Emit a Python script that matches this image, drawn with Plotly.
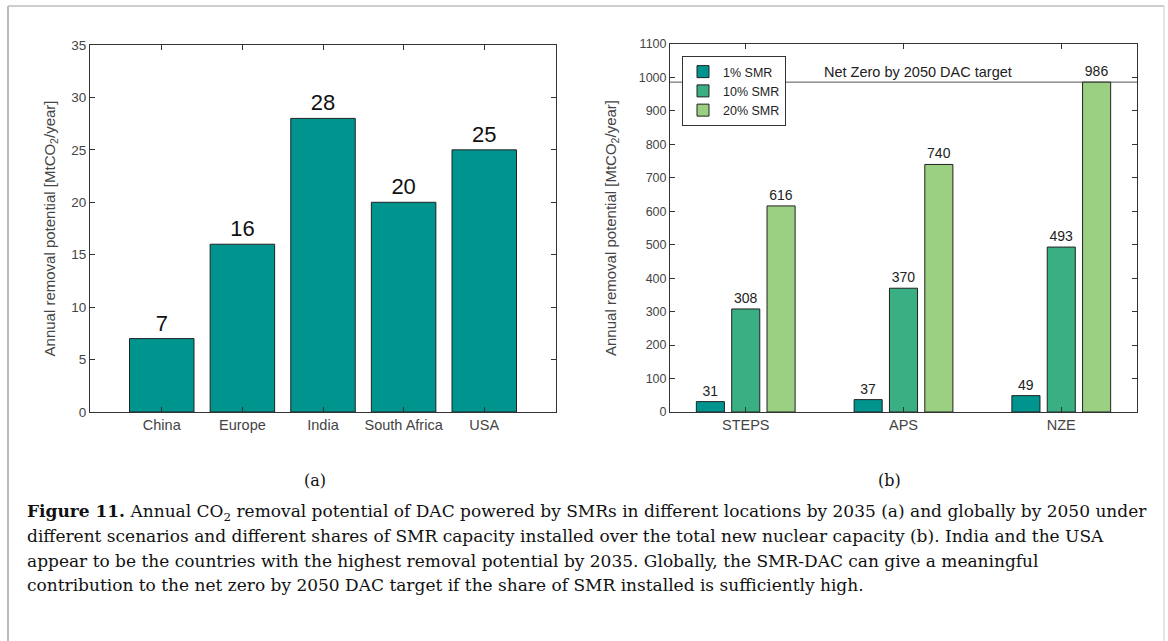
import plotly.graph_objects as go

# ---- data ----
countries = ["China", "Europe", "India", "South Africa", "USA"]
removal_2035 = [7, 16, 28, 20, 25]

scenarios = ["STEPS", "APS", "NZE"]
smr_1 = [31, 37, 49]
smr_10 = [308, 370, 493]
smr_20 = [616, 740, 986]
series_names = ["1% SMR", "10% SMR", "20% SMR"]
NZ_TARGET = 986

left_yticks = [0, 5, 10, 15, 20, 25, 30, 35]
right_yticks = [0, 100, 200, 300, 400, 500, 600, 700, 800, 900, 1000, 1100]

caption_lines = [
    "<b>Figure 11.</b> Annual CO<sub>2</sub> removal potential of DAC powered by SMRs in different locations by 2035 (a) and globally by 2050 under",
    "different scenarios and different shares of SMR capacity installed over the total new nuclear capacity (b). India and the USA",
    "appear to be the countries with the highest removal potential by 2035. Globally, the SMR-DAC can give a meaningful",
    "contribution to the net zero by 2050 DAC target if the share of SMR installed is sufficiently high.",
]

# ---- style ----
W, H = 1168, 641
TEAL = "#00948f"
GREEN = "#3aaf83"
LIGHT = "#9bcf82"
AX = "#333333"
SANS = "Liberation Sans, Arial"
SERIF = "DejaVu Serif, Liberation Serif, serif"

def px_x(p):
    return p / W

def px_y(p):
    return 1 - p / H

fig = go.Figure()

fig.add_trace(go.Bar(
    x=countries, y=removal_2035, width=0.8, marker=dict(color=TEAL, line=dict(color="#222222", width=1)),
    text=[str(v) for v in removal_2035], textposition="outside",
    textfont=dict(family=SANS, size=22, color="#111111"), cliponaxis=False,
    xaxis="x", yaxis="y", showlegend=False,
))

w = 0.178
centers = [-0.224, 0.0, 0.224]
for name, vals, col, c in zip(series_names, [smr_1, smr_10, smr_20], [TEAL, GREEN, LIGHT], centers):
    fig.add_trace(go.Bar(
        x=scenarios, y=vals, name=name, width=w, offset=c - w / 2,
        marker=dict(color=col, line=dict(color="#222222", width=1)),
        text=[str(v) for v in vals], textposition="outside",
        textfont=dict(family=SANS, size=14, color="#222222"), cliponaxis=False,
        xaxis="x2", yaxis="y2",
    ))

def axis_common(tsize):
    return dict(showline=True, linecolor=AX, linewidth=1, mirror="ticks",
                ticks="inside", ticklen=5, tickcolor=AX,
                tickfont=dict(family=SANS, size=tsize, color="#444444"),
                showgrid=False, zeroline=False, automargin=False)

title_font = dict(family=SANS, size=15, color="#444444")

fig.update_layout(
    template="none",
    width=W, height=H, margin=dict(l=0, r=0, t=0, b=0, pad=0),
    paper_bgcolor="white", plot_bgcolor="white",
    barmode="overlay",
    xaxis=dict(domain=[px_x(90), px_x(556)], range=[-0.89, 4.89], anchor="y", **axis_common(14.5)),
    yaxis=dict(domain=[px_y(412), px_y(45)], range=[0, 35], tickvals=left_yticks, anchor="x",
               title=dict(text="Annual removal potential [MtCO<sub>2</sub>/year]", font=title_font, standoff=12),
               **axis_common(13.5)),
    xaxis2=dict(domain=[px_x(670), px_x(1137)], range=[-0.48, 2.48], anchor="y2", **axis_common(14.5)),
    yaxis2=dict(domain=[px_y(412), px_y(44)], range=[0, 1100], tickvals=right_yticks, anchor="x2",
                title=dict(text="Annual removal potential [MtCO<sub>2</sub>/year]", font=title_font, standoff=18),
                **axis_common(12.5)),
    legend=dict(x=px_x(682), y=px_y(56), xanchor="left", yanchor="top",
                bgcolor="white", bordercolor="#333333", borderwidth=1,
                font=dict(family=SANS, size=12.5, color="#222222"),
                itemwidth=30, tracegroupgap=0),
    showlegend=True,
)

# Net Zero target line
fig.add_shape(type="line", xref="x2 domain", yref="y2", x0=0, x1=1, y0=NZ_TARGET, y1=NZ_TARGET,
              line=dict(color="#555555", width=1), layer="below")
fig.add_annotation(xref="x2", yref="y2", x=1.09, y=NZ_TARGET, yanchor="bottom", yshift=0,
                   text="Net Zero by 2050 DAC target", showarrow=False,
                   font=dict(family=SANS, size=14.5, color="#222222"))

# panel labels
for lab, xp in [("(a)", 302), ("(b)", 903)]:
    fig.add_annotation(xref="paper", yref="paper", x=px_x(xp), y=px_y(492), text=lab, showarrow=False,
                       font=dict(family=SERIF, size=16, color="#111111"))

# caption
for i, line in enumerate(caption_lines):
    fig.add_annotation(xref="paper", yref="paper", x=px_x(25), y=px_y(512 + 24.3 * i),
                       xanchor="left", yanchor="middle", text=line, showarrow=False, align="left",
                       font=dict(family=SERIF, size=17, color="#111111"))

# frame
fig.add_shape(type="line", xref="paper", yref="paper", x0=px_x(8), x1=px_x(1164), y0=px_y(6), y1=px_y(6),
              line=dict(color="#9a9a9a", width=1))
fig.add_shape(type="line", xref="paper", yref="paper", x0=px_x(8), x1=px_x(8), y0=px_y(6), y1=0,
              line=dict(color="#bbbbbb", width=2))
fig.add_shape(type="line", xref="paper", yref="paper", x0=px_x(1164), x1=px_x(1164), y0=px_y(6), y1=0,
              line=dict(color="#cccccc", width=1))

fig.write_html("out.html", config={"displayModeBar": False},
               post_script="document.body.style.margin='0';")
